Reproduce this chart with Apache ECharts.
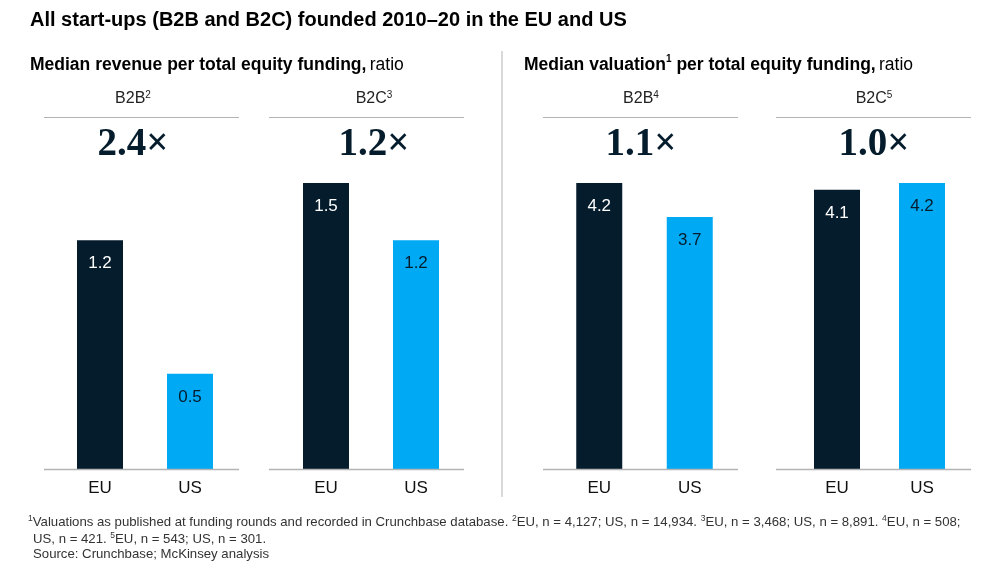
<!DOCTYPE html>
<html>
<head>
<meta charset="utf-8">
<script src="https://cdn.jsdelivr.net/npm/echarts@6/dist/echarts.min.js"></script>
<style>
  html, body { margin: 0; padding: 0; background: #fff; }
  #chart { width: 992px; height: 572px; }
</style>
</head>
<body>
<div id="chart"></div>
<script>
// values
const regions = ['EU', 'US']
const revenueB2B = [1.2, 0.5]
const revenueB2C = [1.5, 1.2]
const valuationB2B = [4.2, 3.7]
const valuationB2C = [4.1, 4.2]
const segments = ['B2B', 'B2C', 'B2B', 'B2C']
const segmentNotes = ['2', '3', '4', '5']
const multiples = ['2.4×', '1.2×', '1.1×', '1.0×']

const dark = '#051c2c'
const blue = '#00a9f4'
const rule = '#b3b3b3'
const sans = 'Liberation Sans, Arial, sans-serif'

// layout of the four small panels
const gridLeft = [55, 281, 554, 794.5]
const gridWidth = [180, 180, 181, 170]
const ruleStart = [44, 269, 543, 776]
const headCenter = [133, 374, 641, 874]
const gridTop = 183
const baseline = 469

const seriesData = [revenueB2B, revenueB2C, valuationB2B, valuationB2C]
const axisMax = [1.5, 1.5, 4.2, 4.2]

const chart = echarts.init(document.getElementById('chart'))

let graphics = []

// title + subtitles
graphics.push({
  type: 'text', x: 30, y: 20,
  style: {
    text: 'All start-ups (B2B and B2C) founded 2010–20 in the EU and US',
    font: 'bold 20px ' + sans, fill: '#000', verticalAlign: 'middle'
  }
})
const subRich = {
  b: { fontSize: 17.5, fontWeight: 'bold', fontFamily: sans, fill: '#000', lineHeight: 22 },
  n: { fontSize: 17.5, fontFamily: sans, fill: '#000', lineHeight: 22 },
  s: { fontSize: 10, fontWeight: 'bold', verticalAlign: 'top', lineHeight: 22, fontFamily: sans, fill: '#000' }
}
graphics.push({
  type: 'text', x: 30, y: 65,
  style: { text: '{b|Median revenue per total equity funding,} {n|ratio}', verticalAlign: 'middle', rich: subRich }
})
graphics.push({
  type: 'text', x: 524, y: 65,
  style: { text: '{b|Median valuation}{s|1}{b| per total equity funding,} {n|ratio}', verticalAlign: 'middle', rich: subRich }
})

// divider
graphics.push({
  type: 'line', shape: { x1: 502, y1: 51, x2: 502, y2: 497 },
  style: { stroke: rule, lineWidth: 1 }
})

segments.forEach((seg, i) => {
  graphics.push({
    type: 'text', x: headCenter[i], y: 99,
    style: {
      text: '{a|' + seg + '}{s|' + segmentNotes[i] + '}',
      align: 'center', verticalAlign: 'middle',
      rich: {
        a: { fontSize: 16, fontFamily: sans, fill: '#222', lineHeight: 18 },
        s: { fontSize: 10, verticalAlign: 'top', lineHeight: 18, fontFamily: sans, fill: '#222' }
      }
    }
  })
  graphics.push({
    type: 'line', shape: { x1: ruleStart[i], y1: 117.5, x2: ruleStart[i] + 195, y2: 117.5 },
    style: { stroke: rule, lineWidth: 1.2 }
  })
  graphics.push({
    type: 'text', x: headCenter[i], y: 145,
    style: {
      text: multiples[i], align: 'center', verticalAlign: 'middle',
      font: 'bold 39px Liberation Serif, Times New Roman, serif', fill: dark
    }
  })
  graphics.push({
    type: 'line', shape: { x1: ruleStart[i], y1: baseline + 0.5, x2: ruleStart[i] + 195, y2: baseline + 0.5 },
    style: { stroke: rule, lineWidth: 1.5 }, z: 10
  })
})

// footnotes
const fnRich = {
  t: { fontSize: 13.2, fontFamily: sans, fill: '#333', lineHeight: 17 },
  s: { fontSize: 8.5, fontFamily: sans, fill: '#333', verticalAlign: 'top', lineHeight: 17 }
}
graphics.push({
  type: 'text', left: 28, top: 514,
  style: {
    text: '{s|1}{t|Valuations as published at funding rounds and recorded in Crunchbase database. }{s|2}{t|EU, n = 4,127; US, n = 14,934. }{s|3}{t|EU, n = 3,468; US, n = 8,891. }{s|4}{t|EU, n = 508;}',
    rich: fnRich
  }
})
graphics.push({
  type: 'text', left: 33, top: 531,
  style: { text: '{t|US, n = 421. }{s|5}{t|EU, n = 543; US, n = 301.}', rich: fnRich }
})
graphics.push({
  type: 'text', left: 33, top: 548,
  style: { text: '{t|Source: Crunchbase; McKinsey analysis}', rich: fnRich }
})

const grids = [], xAxes = [], yAxes = [], series = []
seriesData.forEach((vals, i) => {
  grids.push({ left: gridLeft[i], width: gridWidth[i], top: gridTop, bottom: 572 - baseline })
  xAxes.push({
    type: 'category', gridIndex: i, data: regions,
    axisLine: { show: false }, axisTick: { show: false },
    axisLabel: { color: '#111', fontSize: 17, fontFamily: sans, margin: 11 }
  })
  yAxes.push({ type: 'value', gridIndex: i, min: 0, max: axisMax[i], show: false, splitLine: { show: false } })
  series.push({
    type: 'bar', xAxisIndex: i, yAxisIndex: i, barWidth: 46,
    // EU bar dark with white label, US bar blue with dark label
    data: vals.map((v, j) => ({
      value: v,
      itemStyle: { color: j === 0 ? dark : blue },
      label: { color: j === 0 ? '#fff' : dark }
    })),
    label: {
      show: true, position: 'insideTop', distance: 15,
      fontSize: 17, fontFamily: sans,
      formatter: p => p.value.toFixed(1)
    },
    silent: true
  })
})

chart.setOption({
  animation: false,
  grid: grids,
  xAxis: xAxes,
  yAxis: yAxes,
  series: series,
  graphic: graphics
})
</script>
</body>
</html>
